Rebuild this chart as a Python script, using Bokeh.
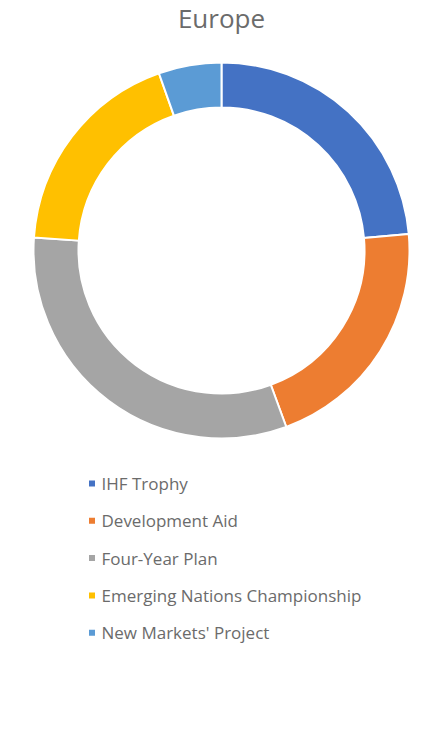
import numpy as np
from bokeh.plotting import figure
from bokeh.models import Range1d, ColumnDataSource
from bokeh.core.properties import value
from bokeh.embed import file_html
from bokeh.resources import INLINE

title = "Europe"
categories = ["IHF Trophy", "Development Aid", "Four-Year Plan",
              "Emerging Nations Championship", "New Markets' Project"]
values = [23.6, 20.8, 31.7, 18.5, 5.4]
colors = ["#4472C4", "#ED7D31", "#A5A5A5", "#FFC000", "#5B9BD5"]

W, H = 415, 718
p = figure(width=W, height=H, output_backend="svg", toolbar_location=None,
           x_range=Range1d(0, W), y_range=Range1d(734 - H, 734),
           min_border=0)
p.axis.visible = False
p.grid.visible = False
p.outline_line_color = None
p.background_fill_color = "white"
p.border_fill_color = "white"

def Y(sy):
    return 734 - sy

cx, cy = 221, Y(250)
r_out, r_in = 188, 143

vals = np.array(values, dtype=float)
frac = vals / vals.sum()
cum = np.concatenate([[0], np.cumsum(frac)])
# clockwise from 12 o'clock -> counterclockwise math angles
start = np.pi / 2 - cum[1:] * 2 * np.pi
end = np.pi / 2 - cum[:-1] * 2 * np.pi
src = ColumnDataSource(dict(start=start, end=end, color=colors, cat=categories))
p.annular_wedge(x=cx, y=cy, inner_radius=r_in, outer_radius=r_out,
                start_angle="start", end_angle="end", fill_color="color",
                line_color="white", line_width=2, source=src)

p.text(x=[221], y=[Y(17)], text=[title], text_align="center", text_baseline="middle",
       text_font=value("Open Sans"), text_font_size="26px", text_color="#6b6b6b")

n = len(categories)
ly = [Y(483 + 37.3 * i) for i in range(n)]
p.scatter(x=[91.5] * n, y=ly, marker="square", size=6, fill_color=colors, line_color=None)
p.text(x=[101] * n, y=ly, text=categories, text_baseline="middle",
       text_font=value("Open Sans"), text_font_size="17px", text_color="#6b6b6b")

open("out.html", "w").write(file_html(p, INLINE))
